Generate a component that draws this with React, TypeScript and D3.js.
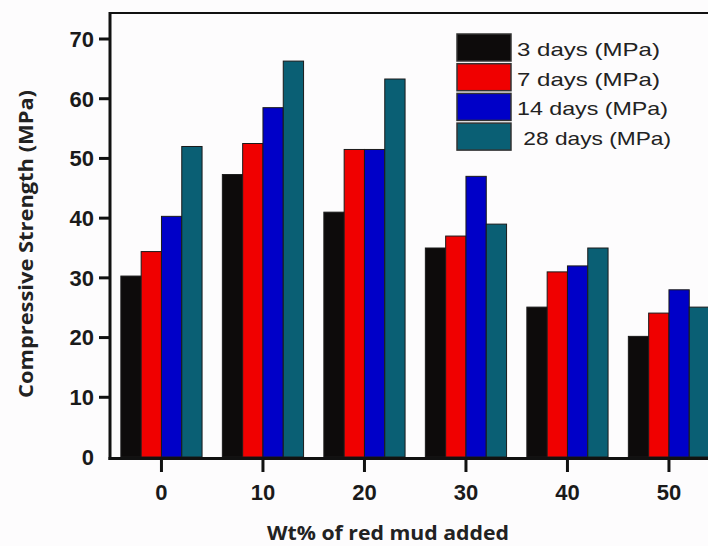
import React from "react";
import * as d3 from "d3";

const categories = ["0", "10", "20", "30", "40", "50"];
const seriesNames = ["3 days (MPa)", "7 days (MPa)", "14 days (MPa)", " 28 days (MPa)"];
const days3 = [30.3, 47.3, 41.0, 35.0, 25.1, 20.2];
const days7 = [34.4, 52.5, 51.5, 37.0, 31.0, 24.1];
const days14 = [40.3, 58.5, 51.5, 47.0, 32.0, 28.0];
const days28 = [52.0, 66.3, 63.3, 39.0, 35.0, 25.1];
const yTicks = [0, 10, 20, 30, 40, 50, 60, 70];
const colors = ["#0d0b0b", "#f00000", "#0000c8", "#0a5f74"];
const legendWidths = [143, 143, 151, 154];

const W = 708;
const H = 546;

export default function App() {
  const series = [days3, days7, days14, days28];
  const step = 101.5;
  const pIn = 0.2;
  const pOut = 0.107;
  const x0 = 110;
  const x = d3
    .scaleBand<string>()
    .domain(categories)
    .range([x0, x0 + step * (categories.length - pIn + 2 * pOut)])
    .paddingInner(pIn)
    .paddingOuter(pOut);
  const xs = d3.scaleBand<string>().domain(seriesNames).range([0, x.bandwidth()]).padding(0);
  const y = d3.scaleLinear().domain([0, 70]).range([457, 39]);

  const fontBold = "'Liberation Sans', Arial, sans-serif";
  const fontLabel = "'Open Sans', 'Noto Sans', sans-serif";

  return (
    <svg
      width={W}
      height={H}
      viewBox={`0 0 ${W} ${H}`}
      style={{ position: "fixed", left: 0, top: 0, background: "#fdfcfd" }}
    >
      <rect x={0} y={0} width={W} height={H} fill="#fdfcfd" />
      {/* bars */}
      {categories.map((c, ci) => (
        <g key={c} transform={`translate(${x(c)},0)`}>
          {series.map((s, si) => (
            <rect
              key={si}
              x={xs(seriesNames[si])}
              y={y(s[ci])}
              width={xs.bandwidth()}
              height={y(0) - y(s[ci])}
              fill={colors[si]}
              stroke="#1a1a1a"
              strokeWidth={1}
            />
          ))}
        </g>
      ))}
      {/* frame top */}
      <line x1={110} x2={W} y1={13} y2={13} stroke="#111" strokeWidth={2} />
      {/* y axis */}
      <line x1={110} x2={110} y1={12} y2={460} stroke="#111" strokeWidth={3} />
      {/* x axis */}
      <line x1={108.5} x2={W} y1={458.5} y2={458.5} stroke="#111" strokeWidth={3} />
      {yTicks.map((t) => (
        <g key={t}>
          {t > 0 && <line x1={99} x2={110} y1={y(t)} y2={y(t)} stroke="#111" strokeWidth={3} />}
          <text
            x={94}
            y={y(t)}
            dy="0.36em"
            textAnchor="end"
            fontFamily={fontBold}
            fontWeight="bold"
            fontSize={22}
            fill="#1a1a1a"
          >
            {t}
          </text>
        </g>
      ))}
      {categories.map((c) => {
        const cx = (x(c) as number) + x.bandwidth() / 2;
        return (
          <g key={c}>
            <line x1={cx} x2={cx} y1={458} y2={472} stroke="#111" strokeWidth={3} />
            <text
              x={cx}
              y={500}
              textAnchor="middle"
              fontFamily={fontBold}
              fontWeight="bold"
              fontSize={22}
              fill="#1a1a1a"
            >
              {c}
            </text>
          </g>
        );
      })}
      {/* axis titles */}
      <text
        transform={`translate(33,244) rotate(-90)`}
        textAnchor="middle"
        fontFamily={fontLabel}
        fontWeight={700}
        fontSize={20}
        fill="#222"
        textLength={308}
        lengthAdjust="spacingAndGlyphs"
      >
        Compressive Strength (MPa)
      </text>
      <text
        x={388}
        y={540}
        textAnchor="middle"
        fontFamily={fontLabel}
        fontWeight={700}
        fontSize={20}
        fill="#222"
        textLength={242}
        lengthAdjust="spacingAndGlyphs"
      >
        Wt% of red mud added
      </text>
      {/* legend */}
      {seriesNames.map((n, i) => {
        const ly = 34 + i * 29.7;
        return (
          <g key={n}>
            <rect x={457} y={ly} width={54} height={27} fill={colors[i]} stroke="#333" strokeWidth={1.5} />
            <text
              x={517}
              y={ly + 22}
              fontFamily="'Liberation Sans', Arial, sans-serif"
              fontSize={19}
              fill="#222"
              textLength={legendWidths[i]}
              lengthAdjust="spacingAndGlyphs"
              style={{ whiteSpace: "pre" }}
            >
              {n}
            </text>
          </g>
        );
      })}
    </svg>
  );
}
